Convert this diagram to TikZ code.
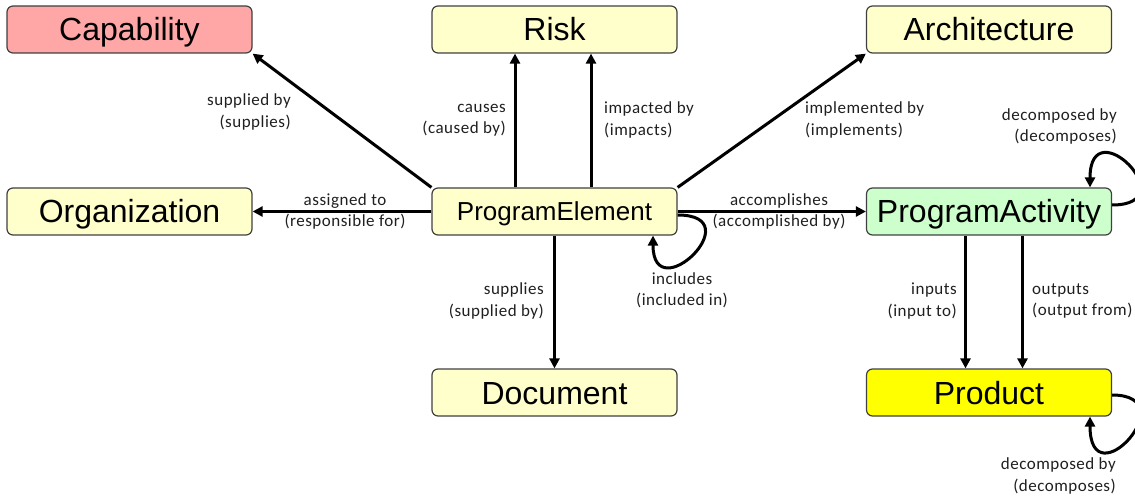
\documentclass[tikz,border=0pt]{standalone}
\usepackage{fontspec}
\usetikzlibrary{arrows.meta}
\newfontfamily\boxfont{Liberation Sans}
\newfontfamily\lblfont[LetterSpace=3]{Carlito}
\definecolor{capfill}{HTML}{FFA6A6}
\definecolor{ylwfill}{HTML}{FFFFCC}
\definecolor{grnfill}{HTML}{CCFFCC}
\definecolor{prodfill}{HTML}{FFFF00}
\definecolor{boxline}{HTML}{404040}
\tikzset{
  ent/.style={draw=boxline, line width=1.2pt, rounded corners=6pt,
    minimum width=245pt, minimum height=47pt, inner sep=0pt,
    text height=23pt, text depth=0pt,
    font=\boxfont\fontsize{32}{36}\selectfont, fill=ylwfill},
  rel/.style={-{Triangle[length=10pt,width=10pt]}, line width=3pt, black},
  lbl/.style={inner sep=0pt, font=\lblfont\fontsize{17}{21.5}\selectfont, text=black!88}
}
\begin{document}
\begin{tikzpicture}[x=1pt,y=1pt]
\useasboundingbox (0,0) rectangle (1135,496);
% entities
\node[ent, fill=capfill] (cap) at (129.5,466.5) {Capability};
\node[ent] (risk) at (554.5,466.5) {Risk};
\node[ent] (arch) at (989,466.5) {Architecture};
\node[ent] (org) at (129.5,284.5) {Organization};
\node[ent, text height=18.6pt, font=\boxfont\fontsize{26}{30}\selectfont] (pe) at (554.5,284.5) {ProgramElement};
\node[ent, fill=grnfill] (pa) at (989,284.5) {ProgramActivity};
\node[ent] (doc) at (554.5,103.5) {Document};
\node[ent, fill=prodfill] (prod) at (989,103.5) {Product};
% relations
\draw[rel] (pe.north west) -- (cap.south east);
\draw[rel] (pe.west) -- (org.east);
\draw[rel] ([xshift=-39.5pt]pe.north) -- ([xshift=-39.5pt]risk.south);
\draw[rel] ([xshift=36.5pt]pe.north) -- ([xshift=36.5pt]risk.south);
\draw[rel] (pe.north east) -- (arch.south west);
\draw[rel] (pe.east) -- (pa.west);
\draw[rel] (pe.south) -- (doc.north);
\draw[rel] ([xshift=-23.5pt]pa.south) -- ([xshift=-23.5pt]prod.north);
\draw[rel] ([xshift=33.5pt]pa.south) -- ([xshift=33.5pt]prod.north);
% self loops
\draw[rel] ([yshift=-3.5pt]pe.east) to[out=0,in=-90,distance=75pt] ([xshift=98.5pt]pe.south);
\draw[rel] ([yshift=6.5pt]pa.east) to[out=0,in=90,out distance=75pt,in distance=80pt] ([xshift=101pt]pa.north);
\draw[rel] ([yshift=-2.5pt]prod.east) to[out=0,in=-90,out distance=75pt,in distance=85pt] ([xshift=101pt]prod.south);
% labels
\node[lbl, anchor=east, align=right] (l1) at (291,384) {supplied by\\(supplies)};
\node[lbl, anchor=east, align=right] (l2) at (506,376) {causes\\(caused by)};
\node[lbl, anchor=west, align=left] (l3) at (604,376) {impacted by\\(impacts)};
\node[lbl, anchor=west, align=left] (l4) at (805,376) {implemented by\\(implements)};
\node[lbl, anchor=east, align=right] (l5) at (1117,369.5) {decomposed by\\(decomposes)};
\node[lbl, align=center] (l6) at (345,284.5) {assigned to\\(responsible for)};
\node[lbl, align=center] (l7) at (779,284.5) {accomplishes\\(accomplished by)};
\node[lbl, align=center] (l8) at (682,205.5) {includes\\(included in)};
\node[lbl, anchor=east, align=right] (l9) at (544,195) {supplies\\(supplied by)};
\node[lbl, anchor=east, align=right] (l10) at (957,195) {inputs\\(input to)};
\node[lbl, anchor=west, align=left] (l11) at (1032,195) {outputs\\(output from)};
\node[lbl, anchor=east, align=right] (l12) at (1116,20) {decomposed by\\(decomposes)};
\end{tikzpicture}
\end{document}
